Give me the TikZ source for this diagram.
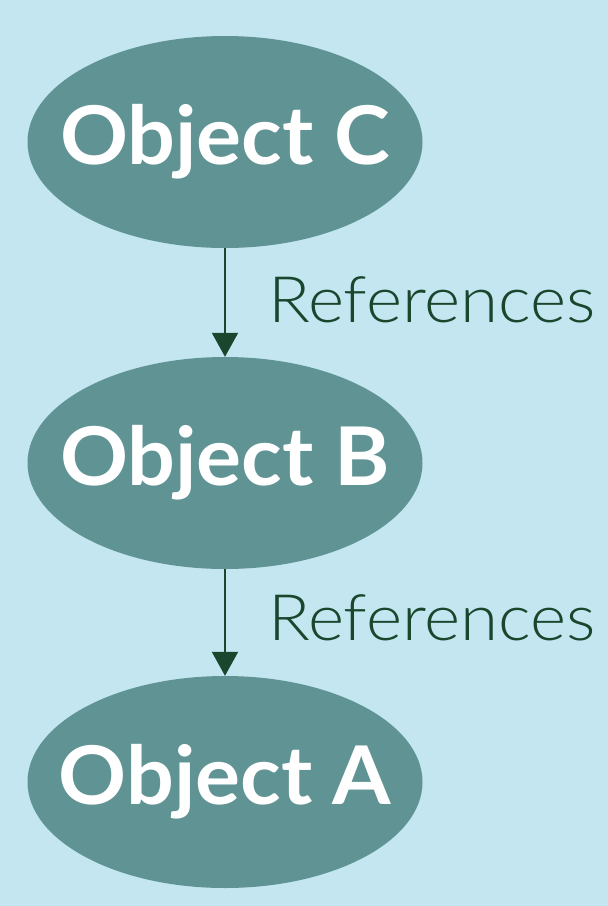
\documentclass[tikz,border=0pt]{standalone}
\usepackage{fontspec}
\setmainfont{Lato}
\newfontfamily\objfont{Lato}[UprightFont=* Bold, FakeStretch=1.04]
\newfontfamily\reffont{Lato}[UprightFont=* Light, FakeStretch=1.08]
\usetikzlibrary{shapes.geometric,arrows.meta}
\definecolor{bgblue}{RGB}{195,230,240}
\definecolor{teal}{RGB}{95,147,148}
\definecolor{darkgreen}{RGB}{25,70,45}
\tikzset{
  obj/.style={ellipse, fill=teal, draw=none, minimum width=395pt, minimum height=212pt, inner sep=0pt},
  objtext/.style={text=white, inner sep=0pt, font=\objfont\fontsize{81}{90}\selectfont},
  reflabel/.style={anchor=base west, text=darkgreen, inner sep=0pt, font=\reffont\fontsize{64}{70}\selectfont},
  refarrow/.style={draw=darkgreen, line width=2pt, -{Triangle[length=24pt,width=26pt]}}
}
\begin{document}
\begin{tikzpicture}[x=1pt,y=1pt]
\fill[bgblue] (0,0) rectangle (608,-906);
\useasboundingbox (0,0) rectangle (608,-906);
\node[obj, label={[objtext]center:Object C}] (C) at (225,-142) {};
\node[obj, label={[objtext]center:Object B}] (B) at (225,-463) {};
\node[obj, label={[objtext]center:Object A}] (A) at (225,-782) {};
\draw[refarrow] (C.south) -- (B.north);
\draw[refarrow] (B.south) -- (A.north);
\node[reflabel] (r1) at (268,-322) {References};
\node[reflabel] (r2) at (268,-640) {References};
\end{tikzpicture}
\end{document}
